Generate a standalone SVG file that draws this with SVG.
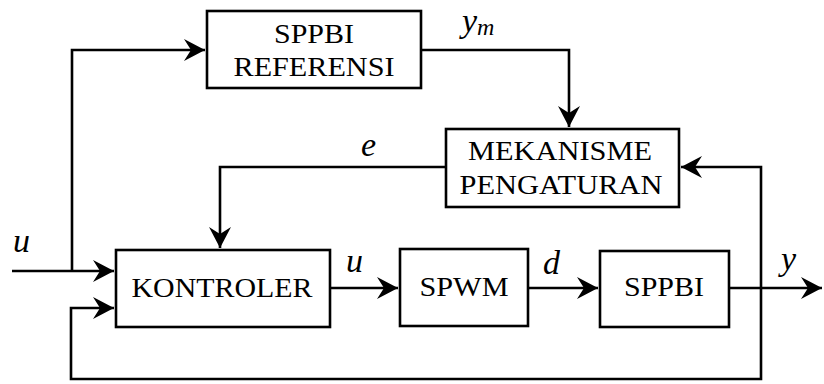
<svg xmlns="http://www.w3.org/2000/svg" width="824" height="384" viewBox="0 0 824 384">
<style>
.box{fill:#fff;stroke:#000;stroke-width:2.6}
.ln{fill:none;stroke:#000;stroke-width:2.6}
.t{font-size:28px;text-anchor:middle;fill:#000}
.v{font-size:34px;font-style:italic;fill:#000}
</style>
<defs>
<marker id="ah" viewBox="-22 -12 23 24" markerWidth="23" markerHeight="24" refX="0" refY="0" orient="auto" markerUnits="userSpaceOnUse">
<path d="M0,0 L-21,-11 L-14,0 L-21,11 Z" fill="#000"/>
</marker>
</defs>
<g id="connectors">
<path class="ln" d="M12,271 L114,271" marker-end="url(#ah)"/>
<path class="ln" d="M72,271 L72,50 L205,50" marker-end="url(#ah)"/>
<path class="ln" d="M421,50 L569,50 L569,127" marker-end="url(#ah)"/>
<path class="ln" d="M446,167 L220,167 L220,248" marker-end="url(#ah)"/>
<path class="ln" d="M729,288 L822,288" marker-end="url(#ah)"/>
<path class="ln" d="M761,288 L761,167 L681,167" marker-end="url(#ah)"/>
<path class="ln" d="M761,288 L761,379 L71,379 L71,308 L114,308" marker-end="url(#ah)"/>
<path class="ln" d="M330,288 L398,288" marker-end="url(#ah)"/>
<path class="ln" d="M528,288 L598,288" marker-end="url(#ah)"/>
</g>
<g font-family="Liberation Serif, Times New Roman, serif">
<g id="ref">
<rect class="box" x="207" y="11" width="214" height="77"/>
<text class="t" x="314" y="43" textLength="80" lengthAdjust="spacingAndGlyphs">SPPBI</text>
<text class="t" x="314" y="76" textLength="161" lengthAdjust="spacingAndGlyphs">REFERENSI</text>
</g>
<g id="mek">
<rect class="box" x="446" y="129" width="233" height="78"/>
<text class="t" x="560" y="160" textLength="184" lengthAdjust="spacingAndGlyphs">MEKANISME</text>
<text class="t" x="561" y="194" textLength="203" lengthAdjust="spacingAndGlyphs">PENGATURAN</text>
</g>
<g id="kontroler">
<rect class="box" x="116" y="250" width="214" height="77"/>
<text class="t" x="222" y="297" textLength="181" lengthAdjust="spacingAndGlyphs">KONTROLER</text>
</g>
<g id="spwm">
<rect class="box" x="400" y="249" width="128" height="77"/>
<text class="t" x="464" y="296" textLength="89" lengthAdjust="spacingAndGlyphs">SPWM</text>
</g>
<g id="sppbi">
<rect class="box" x="600" y="251" width="129" height="76"/>
<text class="t" x="664" y="296" textLength="80" lengthAdjust="spacingAndGlyphs">SPPBI</text>
</g>
<g id="labels">
<text class="v" x="13" y="252">u</text>
<text class="v" x="346" y="272">u</text>
<text class="v" x="543" y="274">d</text>
<text class="v" x="781" y="270">y</text>
<text class="v" x="361" y="156">e</text>
<text class="v" x="462" y="32">y<tspan font-size="24" dy="3">m</tspan></text>
</g>
</g>
</svg>
